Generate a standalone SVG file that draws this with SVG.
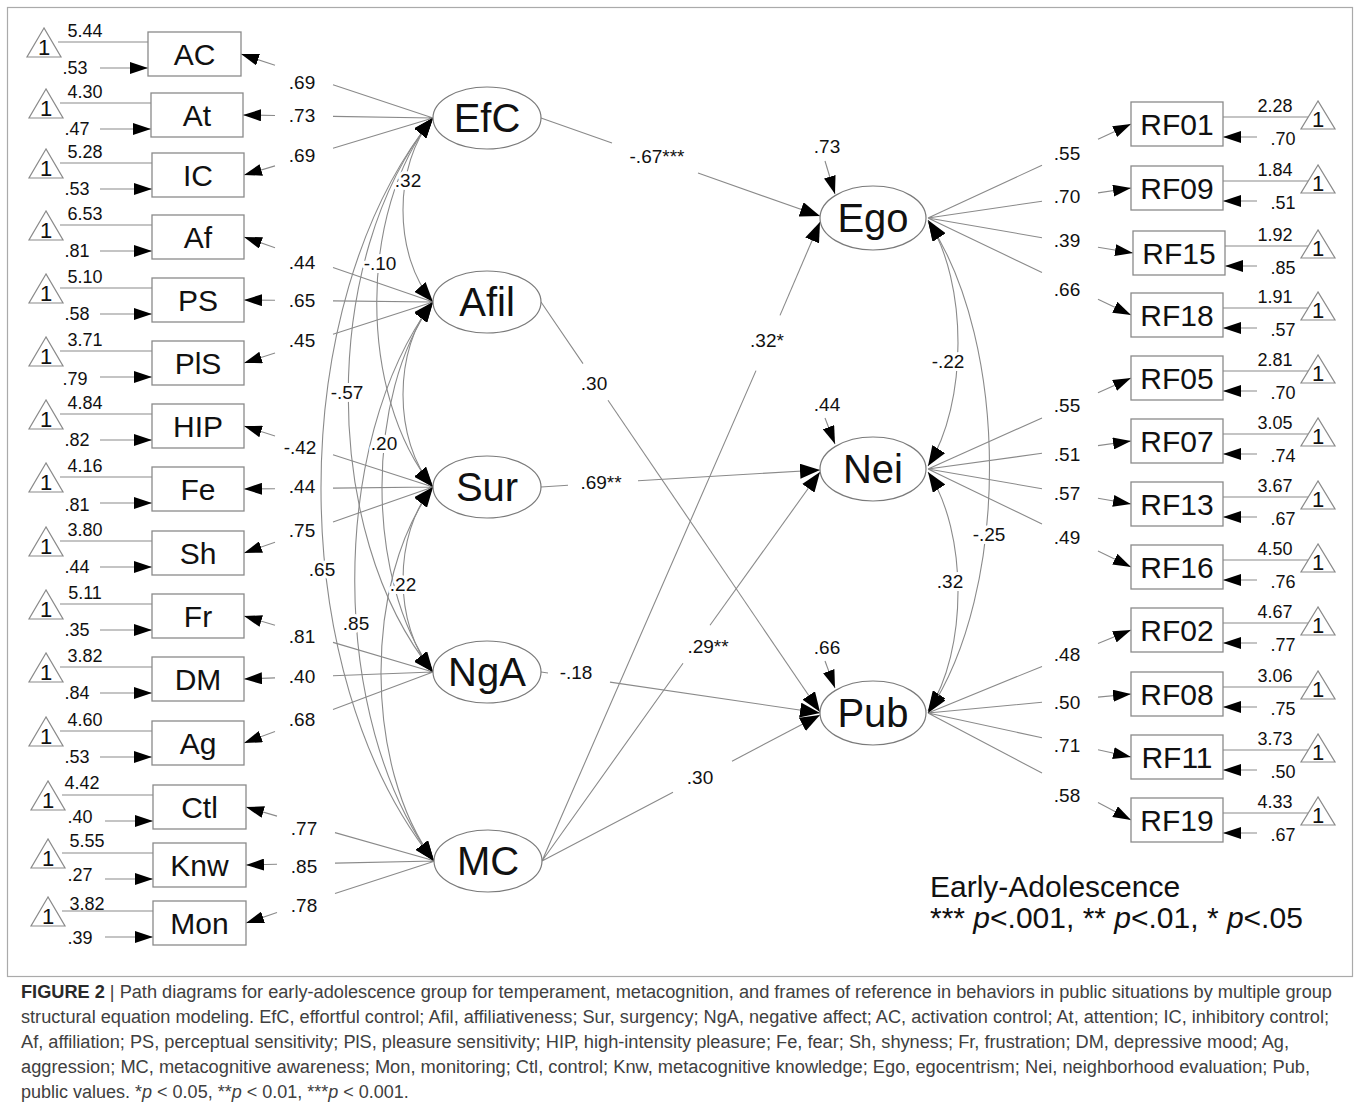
<svg xmlns="http://www.w3.org/2000/svg" width="1356" height="1109" viewBox="0 0 1356 1109">
<style>
.ln{stroke:#8a8a8a;stroke-width:1.1;fill:none}
.box{fill:#fff;stroke:#8a8a8a;stroke-width:1.3}
.lat{fill:#fff;stroke:#7a7a7a;stroke-width:1.2}
.tri{fill:#fff;stroke:#8a8a8a;stroke-width:1.2}
text{font-family:"Liberation Sans",Arial,sans-serif;fill:#111}
.bt{font-size:30px;text-anchor:middle}
.lt{font-size:40px;text-anchor:middle}
.one{font-size:22px;text-anchor:middle}
.sm{font-size:18px;text-anchor:middle}
.lb{font-size:19px;text-anchor:middle;stroke:#fff;stroke-width:6;paint-order:stroke;stroke-linejoin:round}
.cap{font-family:"Liberation Sans Narrow","Liberation Sans",Arial,sans-serif;font-size:18px;fill:#404040}
</style>
<defs>
<marker id="ah" viewBox="0 0 18 12" refX="18" refY="6" markerWidth="18" markerHeight="12" orient="auto" markerUnits="userSpaceOnUse"><path d="M0,0 L18,6 L0,12 z" fill="#000"/></marker>
<marker id="ahb" viewBox="0 0 20 15" refX="20" refY="7.5" markerWidth="20" markerHeight="15" orient="auto-start-reverse" markerUnits="userSpaceOnUse"><path d="M0,0 L20,7.5 L0,15 z" fill="#000"/></marker>
</defs>
<rect x="7.5" y="7.5" width="1345" height="969" fill="#fff" stroke="#aaa" stroke-width="1.2"/>

<g id="connectors">
<g marker-end="url(#ah)" class="ln">
<path d="M58,42H148M100,68H148"/>
<path d="M60,103H151M100,129H151"/>
<path d="M60,163H152M100,189H152"/>
<path d="M60,225H152M100,251H152"/>
<path d="M60,288H152M100,314H152"/>
<path d="M60,351H152M100,377H152"/>
<path d="M60,414H152M100,440H152"/>
<path d="M60,477H152M100,503H152"/>
<path d="M60,541H152M100,567H152"/>
<path d="M60,604H152M100,630H152"/>
<path d="M60,667H152M100,693H152"/>
<path d="M60,731H152M100,757H152"/>
<path d="M62,795H153M105,821H153"/>
<path d="M62,853H153M105,879H153"/>
<path d="M62,911H153M105,937H153"/>
</g>
<g marker-end="url(#ah)" class="ln">
<path d="M1308,117H1223M1257,137H1223"/>
<path d="M1308,181H1223M1257,201H1223"/>
<path d="M1308,246H1225M1257,266H1225"/>
<path d="M1308,308H1223M1257,328H1223"/>
<path d="M1308,371H1223M1257,391H1223"/>
<path d="M1308,434H1223M1257,454H1223"/>
<path d="M1308,497H1223M1257,517H1223"/>
<path d="M1308,560H1223M1257,580H1223"/>
<path d="M1308,623H1223M1257,643H1223"/>
<path d="M1308,687H1223M1257,707H1223"/>
<path d="M1308,750H1223M1257,770H1223"/>
<path d="M1308,813H1223M1257,833H1223"/>
</g>
<path class="ln" d="M433,118L333,84.7M433,118L333,116.4M433,118L333,148.3"/>
<path class="ln" d="M433,302L333,267.6M433,302L333,300.9M433,302L333,334.3"/>
<path class="ln" d="M433,487L333,454.7M433,487L333,488.1M433,487L333,521.9"/>
<path class="ln" d="M433,672L333,642.4M433,672L333,675.7M433,672L333,709.6"/>
<path class="ln" d="M435,861L335,832.6M435,861L335,863.1M435,861L335,893.6"/>
<g class="ln" marker-end="url(#ah)">
<path d="M275,65.3L241,54"/><path d="M275,115.5L243,115"/><path d="M275,165.9L244,175"/>
<path d="M275,247.7L244,237"/><path d="M275,300.3L244,300"/><path d="M275,353L244,363"/>
<path d="M275,436L244,426"/><path d="M275,488.7L244,489"/><path d="M275,542.2L244,553"/>
<path d="M275,625.2L244,616"/><path d="M275,677.9L244,679"/><path d="M275,731.4L244,743"/>
<path d="M277,816.1L246,807"/><path d="M277,864.3L246,865"/><path d="M277,912.6L246,923"/>
</g>
<path class="ln" d="M928,218L1042,165.2M928,218L1042,201.2M928,218L1042,237.7M928,218L1042,272.5"/>
<path class="ln" d="M928,469L1042,417.9M928,469L1042,453.3M928,469L1042,488.7M928,469L1042,524"/>
<path class="ln" d="M928,713L1042,666.4M928,713L1042,702.3M928,713L1042,737.7M928,713L1042,773.1"/>
<g class="ln" marker-end="url(#ah)">
<path d="M1098,139.3L1131,124"/><path d="M1098,192.9L1131,188"/><path d="M1098,247.3L1133,253"/><path d="M1098,299.2L1131,315"/>
<path d="M1098,392.8L1131,378"/><path d="M1098,445.6L1131,441"/><path d="M1098,498.3L1131,504"/><path d="M1098,551.1L1131,567"/>
<path d="M1098,643.5L1131,630"/><path d="M1098,697.1L1131,694"/><path d="M1098,749.8L1131,757"/><path d="M1098,802.6L1131,820"/>
</g>
<path class="ln" d="M541,118L612,142.9M541,302L583,363.6M541,487L568,485.3M541,672L548,673M542,861L756,370.6M542,861L683,663.2M542,861L673,792.2"/>
<g class="ln" marker-end="url(#ahb)">
<path d="M698,173.1L820,216"/>
<path d="M608,400.2L820,712"/>
<path d="M638,480.7L820,470"/>
<path d="M610,682.1L820,713"/>
<path d="M780,315.4L820,222"/>
<path d="M710,625.3L820,472"/>
<path d="M732,761.2L820,715"/>
</g>
<g class="ln" marker-end="url(#ah)">
<path d="M825,161L835,194"/>
<path d="M825,418L835,444"/>
<path d="M825,661L835,688"/>
</g>
<g class="ln" marker-start="url(#ahb)" marker-end="url(#ahb)">
<path d="M433,118C393,164 393,256 433,302"/>
<path d="M433,118C358,210 358,395 433,487"/>
<path d="M433,118C320,256.5 320,533.5 433,672"/>
<path d="M433,118C283,304 284,675 434,861"/>
<path d="M433,302C393,348 393,441 433,487"/>
<path d="M433,302C365,394.5 365,579.5 433,672"/>
<path d="M433,487C393,533 393,626 433,672"/>
<path d="M433,302C328,442 329,721 434,861"/>
<path d="M433,487C363,580.5 364,767.5 434,861"/>
</g>
<g class="ln" marker-start="url(#ahb)" marker-end="url(#ahb)">
<path d="M928,220C968,283 968,403 928,466"/>
<path d="M928,472C968,532 968,651 928,711"/>
<path d="M928,221C1010,344 1010,591 928,713"/>
</g>
<g>
<text class="lb" x="302" y="89">.69</text><text class="lb" x="302" y="122">.73</text><text class="lb" x="302" y="162">.69</text>
<text class="lb" x="302" y="269">.44</text><text class="lb" x="302" y="307">.65</text><text class="lb" x="302" y="347">.45</text>
<text class="lb" x="300" y="454">-.42</text><text class="lb" x="302" y="493">.44</text><text class="lb" x="302" y="537">.75</text>
<text class="lb" x="302" y="643">.81</text><text class="lb" x="302" y="683">.40</text><text class="lb" x="302" y="726">.68</text>
<text class="lb" x="304" y="835">.77</text><text class="lb" x="304" y="873">.85</text><text class="lb" x="304" y="912">.78</text>
<text class="lb" x="408" y="187">.32</text><text class="lb" x="380" y="270">-.10</text><text class="lb" x="347" y="399">-.57</text>
<text class="lb" x="384" y="450">.20</text><text class="lb" x="322" y="576">.65</text><text class="lb" x="403" y="591">.22</text>
<text class="lb" x="356" y="630">.85</text>
<text class="lb" x="1067" y="160">.55</text><text class="lb" x="1067" y="203">.70</text><text class="lb" x="1067" y="247">.39</text><text class="lb" x="1067" y="296">.66</text>
<text class="lb" x="1067" y="412">.55</text><text class="lb" x="1067" y="461">.51</text><text class="lb" x="1067" y="500">.57</text><text class="lb" x="1067" y="544">.49</text>
<text class="lb" x="1067" y="661">.48</text><text class="lb" x="1067" y="709">.50</text><text class="lb" x="1067" y="752">.71</text><text class="lb" x="1067" y="802">.58</text>
<text class="lb" x="827" y="153">.73</text><text class="lb" x="827" y="411">.44</text><text class="lb" x="827" y="654">.66</text>
<text class="lb" x="948" y="368">-.22</text><text class="lb" x="950" y="588">.32</text><text class="lb" x="989" y="541">-.25</text>
<text class="lb" x="657" y="163" font-size="20">-.67***</text><text class="lb" x="594" y="390">.30</text><text class="lb" x="601" y="489" font-size="20">.69**</text>
<text class="lb" x="576" y="679">-.18</text><text class="lb" x="767" y="347" font-size="20">.32*</text><text class="lb" x="708" y="653" font-size="20">.29**</text><text class="lb" x="700" y="784">.30</text>
<text class="sm" x="85" y="37">5.44</text><text class="sm" x="75" y="74">.53</text>
<text class="sm" x="85" y="98">4.30</text><text class="sm" x="77" y="135">.47</text>
<text class="sm" x="85" y="158">5.28</text><text class="sm" x="77" y="195">.53</text>
<text class="sm" x="85" y="220">6.53</text><text class="sm" x="77" y="257">.81</text>
<text class="sm" x="85" y="283">5.10</text><text class="sm" x="77" y="320">.58</text>
<text class="sm" x="85" y="346">3.71</text><text class="sm" x="75" y="385">.79</text>
<text class="sm" x="85" y="409">4.84</text><text class="sm" x="77" y="446">.82</text>
<text class="sm" x="85" y="472">4.16</text><text class="sm" x="77" y="511">.81</text>
<text class="sm" x="85" y="536">3.80</text><text class="sm" x="77" y="573">.44</text>
<text class="sm" x="85" y="599">5.11</text><text class="sm" x="77" y="636">.35</text>
<text class="sm" x="85" y="662">3.82</text><text class="sm" x="77" y="699">.84</text>
<text class="sm" x="85" y="726">4.60</text><text class="sm" x="77" y="763">.53</text>
<text class="sm" x="82" y="789">4.42</text><text class="sm" x="80" y="823">.40</text>
<text class="sm" x="87" y="847">5.55</text><text class="sm" x="80" y="881">.27</text>
<text class="sm" x="87" y="910">3.82</text><text class="sm" x="80" y="944">.39</text>
<text class="sm" x="1275" y="112">2.28</text><text class="sm" x="1283" y="145">.70</text>
<text class="sm" x="1275" y="176">1.84</text><text class="sm" x="1283" y="209">.51</text>
<text class="sm" x="1275" y="241">1.92</text><text class="sm" x="1283" y="274">.85</text>
<text class="sm" x="1275" y="303">1.91</text><text class="sm" x="1283" y="336">.57</text>
<text class="sm" x="1275" y="366">2.81</text><text class="sm" x="1283" y="399">.70</text>
<text class="sm" x="1275" y="429">3.05</text><text class="sm" x="1283" y="462">.74</text>
<text class="sm" x="1275" y="492">3.67</text><text class="sm" x="1283" y="525">.67</text>
<text class="sm" x="1275" y="555">4.50</text><text class="sm" x="1283" y="588">.76</text>
<text class="sm" x="1275" y="618">4.67</text><text class="sm" x="1283" y="651">.77</text>
<text class="sm" x="1275" y="682">3.06</text><text class="sm" x="1283" y="715">.75</text>
<text class="sm" x="1275" y="745">3.73</text><text class="sm" x="1283" y="778">.50</text>
<text class="sm" x="1275" y="808">4.33</text><text class="sm" x="1283" y="841">.67</text>
</g>
</g>

<g id="k-AC"><polygon class="tri" points="44,28 27,57 61,57"/><text class="one" x="44" y="55">1</text></g>
<g id="k-At"><polygon class="tri" points="46,89 29,118 63,118"/><text class="one" x="46" y="116">1</text></g>
<g id="k-IC"><polygon class="tri" points="46,149 29,178 63,178"/><text class="one" x="46" y="176">1</text></g>
<g id="k-Af"><polygon class="tri" points="46,211 29,240 63,240"/><text class="one" x="46" y="238">1</text></g>
<g id="k-PS"><polygon class="tri" points="46,274 29,303 63,303"/><text class="one" x="46" y="301">1</text></g>
<g id="k-PlS"><polygon class="tri" points="46,337 29,366 63,366"/><text class="one" x="46" y="364">1</text></g>
<g id="k-HIP"><polygon class="tri" points="46,400 29,429 63,429"/><text class="one" x="46" y="427">1</text></g>
<g id="k-Fe"><polygon class="tri" points="46,463 29,492 63,492"/><text class="one" x="46" y="490">1</text></g>
<g id="k-Sh"><polygon class="tri" points="46,527 29,556 63,556"/><text class="one" x="46" y="554">1</text></g>
<g id="k-Fr"><polygon class="tri" points="46,590 29,619 63,619"/><text class="one" x="46" y="617">1</text></g>
<g id="k-DM"><polygon class="tri" points="46,653 29,682 63,682"/><text class="one" x="46" y="680">1</text></g>
<g id="k-Ag"><polygon class="tri" points="46,717 29,746 63,746"/><text class="one" x="46" y="744">1</text></g>
<g id="k-Ctl"><polygon class="tri" points="48,781 31,810 65,810"/><text class="one" x="48" y="808">1</text></g>
<g id="k-Knw"><polygon class="tri" points="48,839 31,868 65,868"/><text class="one" x="48" y="866">1</text></g>
<g id="k-Mon"><polygon class="tri" points="48,897 31,926 65,926"/><text class="one" x="48" y="924">1</text></g>

<g id="n-AC"><rect class="box" x="148" y="32" width="93" height="44"/><text class="bt" x="194.5" y="65">AC</text></g>
<g id="n-At"><rect class="box" x="151" y="93" width="92" height="44"/><text class="bt" x="197" y="126">At</text></g>
<g id="n-IC"><rect class="box" x="152" y="153" width="92" height="44"/><text class="bt" x="198" y="186">IC</text></g>
<g id="n-Af"><rect class="box" x="152" y="215" width="92" height="44"/><text class="bt" x="198" y="248">Af</text></g>
<g id="n-PS"><rect class="box" x="152" y="278" width="92" height="44"/><text class="bt" x="198" y="311">PS</text></g>
<g id="n-PlS"><rect class="box" x="152" y="341" width="92" height="44"/><text class="bt" x="198" y="374">PlS</text></g>
<g id="n-HIP"><rect class="box" x="152" y="404" width="92" height="44"/><text class="bt" x="198" y="437">HIP</text></g>
<g id="n-Fe"><rect class="box" x="152" y="467" width="92" height="44"/><text class="bt" x="198" y="500">Fe</text></g>
<g id="n-Sh"><rect class="box" x="152" y="531" width="92" height="44"/><text class="bt" x="198" y="564">Sh</text></g>
<g id="n-Fr"><rect class="box" x="152" y="594" width="92" height="44"/><text class="bt" x="198" y="627">Fr</text></g>
<g id="n-DM"><rect class="box" x="152" y="657" width="92" height="44"/><text class="bt" x="198" y="690">DM</text></g>
<g id="n-Ag"><rect class="box" x="152" y="721" width="92" height="44"/><text class="bt" x="198" y="754">Ag</text></g>
<g id="n-Ctl"><rect class="box" x="153" y="785" width="93" height="44"/><text class="bt" x="199.5" y="818">Ctl</text></g>
<g id="n-Knw"><rect class="box" x="153" y="843" width="93" height="44"/><text class="bt" x="199.5" y="876">Knw</text></g>
<g id="n-Mon"><rect class="box" x="153" y="901" width="93" height="44"/><text class="bt" x="199.5" y="934">Mon</text></g>

<g id="n-EfC"><ellipse class="lat" cx="487" cy="118" rx="54" ry="31"/><text class="lt" x="487" y="132">EfC</text></g>
<g id="n-Afil"><ellipse class="lat" cx="487" cy="302" rx="54" ry="31"/><text class="lt" x="487" y="316">Afil</text></g>
<g id="n-Sur"><ellipse class="lat" cx="487" cy="487" rx="54" ry="31"/><text class="lt" x="487" y="501">Sur</text></g>
<g id="n-NgA"><ellipse class="lat" cx="487" cy="672" rx="54" ry="31"/><text class="lt" x="487" y="686">NgA</text></g>
<g id="n-MC"><ellipse class="lat" cx="488" cy="861" rx="54" ry="31"/><text class="lt" x="488" y="875">MC</text></g>
<g id="n-Ego"><ellipse class="lat" cx="873" cy="218" rx="53" ry="32"/><text class="lt" x="873" y="232">Ego</text></g>
<g id="n-Nei"><ellipse class="lat" cx="873" cy="469" rx="53" ry="32"/><text class="lt" x="873" y="483">Nei</text></g>
<g id="n-Pub"><ellipse class="lat" cx="873" cy="713" rx="53" ry="32"/><text class="lt" x="873" y="727">Pub</text></g>

<g id="n-RF01"><rect class="box" x="1131" y="102" width="92" height="44"/><text class="bt" x="1177" y="135">RF01</text></g>
<g id="n-RF09"><rect class="box" x="1131" y="166" width="92" height="44"/><text class="bt" x="1177" y="199">RF09</text></g>
<g id="n-RF15"><rect class="box" x="1133" y="231" width="92" height="44"/><text class="bt" x="1179" y="264">RF15</text></g>
<g id="n-RF18"><rect class="box" x="1131" y="293" width="92" height="44"/><text class="bt" x="1177" y="326">RF18</text></g>
<g id="n-RF05"><rect class="box" x="1131" y="356" width="92" height="44"/><text class="bt" x="1177" y="389">RF05</text></g>
<g id="n-RF07"><rect class="box" x="1131" y="419" width="92" height="44"/><text class="bt" x="1177" y="452">RF07</text></g>
<g id="n-RF13"><rect class="box" x="1131" y="482" width="92" height="44"/><text class="bt" x="1177" y="515">RF13</text></g>
<g id="n-RF16"><rect class="box" x="1131" y="545" width="92" height="44"/><text class="bt" x="1177" y="578">RF16</text></g>
<g id="n-RF02"><rect class="box" x="1131" y="608" width="92" height="44"/><text class="bt" x="1177" y="641">RF02</text></g>
<g id="n-RF08"><rect class="box" x="1131" y="672" width="92" height="44"/><text class="bt" x="1177" y="705">RF08</text></g>
<g id="n-RF11"><rect class="box" x="1131" y="735" width="92" height="44"/><text class="bt" x="1177" y="768">RF11</text></g>
<g id="n-RF19"><rect class="box" x="1131" y="798" width="92" height="44"/><text class="bt" x="1177" y="831">RF19</text></g>

<g id="k-RF01"><polygon class="tri" points="1318,101 1301,129 1335,129"/><text class="one" x="1318" y="127">1</text></g>
<g id="k-RF09"><polygon class="tri" points="1318,165 1301,193 1335,193"/><text class="one" x="1318" y="191">1</text></g>
<g id="k-RF15"><polygon class="tri" points="1318,230 1301,258 1335,258"/><text class="one" x="1318" y="256">1</text></g>
<g id="k-RF18"><polygon class="tri" points="1318,292 1301,320 1335,320"/><text class="one" x="1318" y="318">1</text></g>
<g id="k-RF05"><polygon class="tri" points="1318,355 1301,383 1335,383"/><text class="one" x="1318" y="381">1</text></g>
<g id="k-RF07"><polygon class="tri" points="1318,418 1301,446 1335,446"/><text class="one" x="1318" y="444">1</text></g>
<g id="k-RF13"><polygon class="tri" points="1318,481 1301,509 1335,509"/><text class="one" x="1318" y="507">1</text></g>
<g id="k-RF16"><polygon class="tri" points="1318,544 1301,572 1335,572"/><text class="one" x="1318" y="570">1</text></g>
<g id="k-RF02"><polygon class="tri" points="1318,607 1301,635 1335,635"/><text class="one" x="1318" y="633">1</text></g>
<g id="k-RF08"><polygon class="tri" points="1318,671 1301,699 1335,699"/><text class="one" x="1318" y="697">1</text></g>
<g id="k-RF11"><polygon class="tri" points="1318,734 1301,762 1335,762"/><text class="one" x="1318" y="760">1</text></g>
<g id="k-RF19"><polygon class="tri" points="1318,797 1301,825 1335,825"/><text class="one" x="1318" y="823">1</text></g>

<g id="legend">
<text x="930" y="897" font-size="30">Early-Adolescence</text>
<text x="930" y="928" font-size="30">*** <tspan font-style="italic">p</tspan>&lt;.001, ** <tspan font-style="italic">p</tspan>&lt;.01, * <tspan font-style="italic">p</tspan>&lt;.05</text>
</g>

<g id="caption">
<text class="cap" x="21" y="998" textLength="1311" lengthAdjust="spacingAndGlyphs"><tspan font-weight="bold" fill="#2a2a2a">FIGURE 2</tspan> | Path diagrams for early-adolescence group for temperament, metacognition, and frames of reference in behaviors in public situations by multiple group</text>
<text class="cap" x="21" y="1023" textLength="1308" lengthAdjust="spacingAndGlyphs">structural equation modeling. EfC, effortful control; Afil, affiliativeness; Sur, surgency; NgA, negative affect; AC, activation control; At, attention; IC, inhibitory control;</text>
<text class="cap" x="21" y="1048" textLength="1268" lengthAdjust="spacingAndGlyphs">Af, affiliation; PS, perceptual sensitivity; PlS, pleasure sensitivity; HIP, high-intensity pleasure; Fe, fear; Sh, shyness; Fr, frustration; DM, depressive mood; Ag,</text>
<text class="cap" x="21" y="1073" textLength="1289" lengthAdjust="spacingAndGlyphs">aggression; MC, metacognitive awareness; Mon, monitoring; Ctl, control; Knw, metacognitive knowledge; Ego, egocentrism; Nei, neighborhood evaluation; Pub,</text>
<text class="cap" x="21" y="1098" font-size="17">public values. *<tspan font-style="italic">p</tspan> &lt; 0.05, **<tspan font-style="italic">p</tspan> &lt; 0.01, ***<tspan font-style="italic">p</tspan> &lt; 0.001.</text>
</g>
</svg>
